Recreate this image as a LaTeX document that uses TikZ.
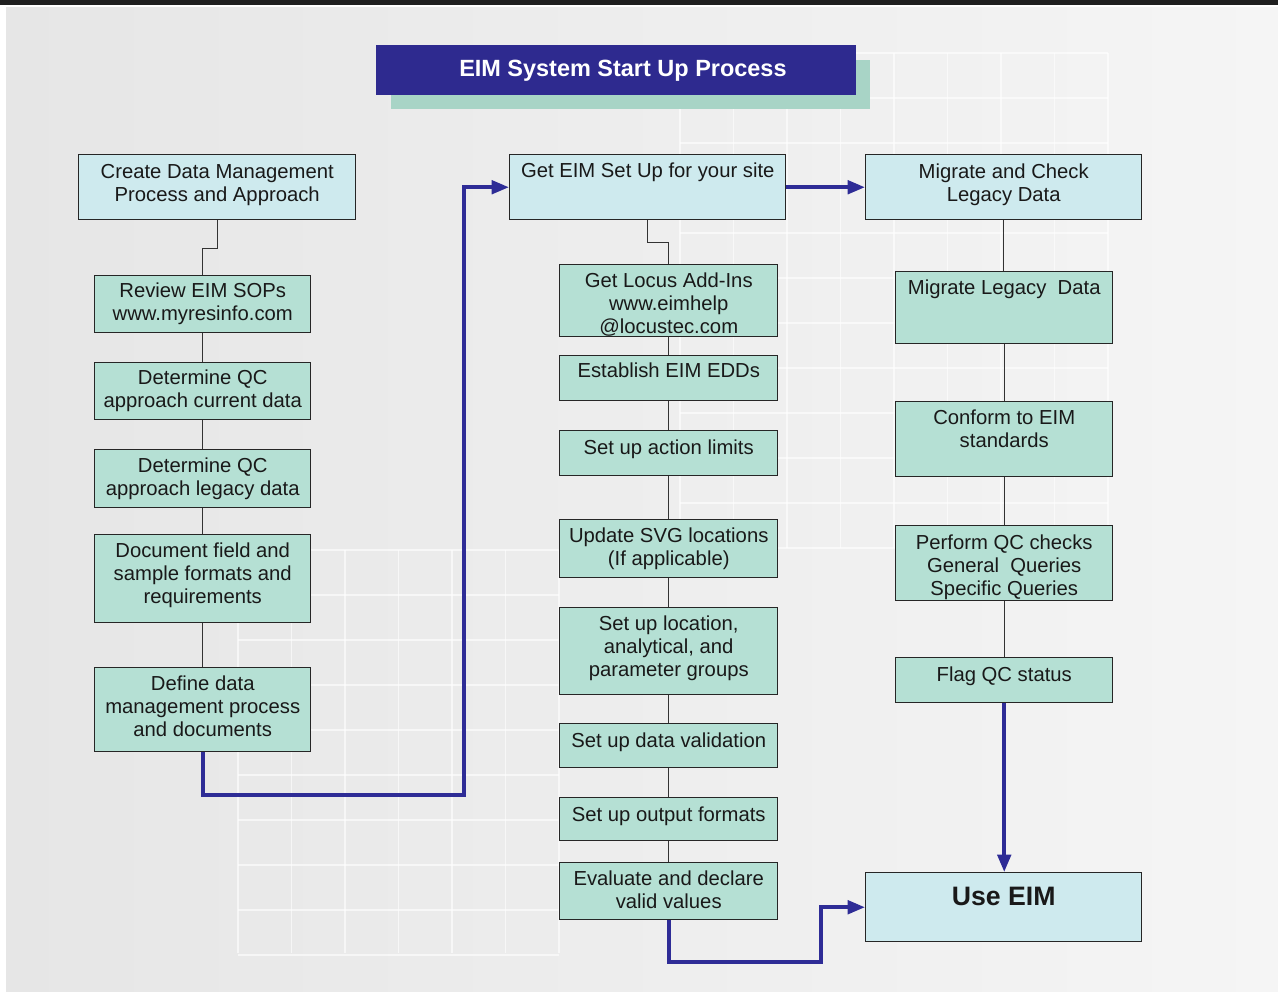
\documentclass[tikz,border=0pt]{standalone}
\usepackage{fontspec}
\setmainfont{Liberation Sans}
\usetikzlibrary{arrows.meta}

\definecolor{titleblue}{RGB}{46,42,143}
\definecolor{shadowteal}{RGB}{168,212,198}
\definecolor{cyanbox}{RGB}{206,234,238}
\definecolor{tealbox}{RGB}{181,224,212}
\definecolor{flowblue}{RGB}{46,44,150}
\definecolor{bgleft}{RGB}{230,230,230}
\definecolor{bgright}{RGB}{245,245,245}

\def\px{0.75pt}
\newcommand\boxfont{\fontsize{15.2}{17.25}\selectfont}

% width, baseline of the last line from the top, height (all in px)
\tikzset{boxsize/.style n args={3}{minimum width=#1*\px, text height=#2*\px, text depth=(#3-#2)*\px}}

\begin{document}
\begin{tikzpicture}[x=\px, y=-\px]
    \tikzstyle{cbox}=[draw=black!85, line width=1.1pt, fill=cyanbox, text=black!90, align=center, anchor=north west, inner sep=0pt, font=\boxfont]
    \tikzstyle{tbox}=[cbox, fill=tealbox]
    \tikzstyle{link}=[draw=black!80, line width=1pt]
    \tikzstyle{flow}=[draw=flowblue, line width=2.8pt, -{Triangle[length=13pt,width=10pt]}]
    \tikzstyle{gridline}=[draw=white, line width=0.8pt, opacity=0.6]

    \useasboundingbox (0,0) rectangle (1278,992);

    % Draw the background.
    \fill[white] (0,0) rectangle (1278,992);
    \shade[left color=bgleft, right color=bgright] (6,7) rectangle (1278,992);
    \fill[black!88] (0,0) rectangle (1278,5);
    \foreach \i in {0,...,6}
        \draw[gridline] (238+\i*53.5,550) -- (238+\i*53.5,953);
    \foreach \j in {0,...,9}
        \draw[gridline] (238,550+\j*45) -- (559,550+\j*45);
    \foreach \i in {0,...,8}
        \draw[gridline] (680+\i*53.5,53) -- (680+\i*53.5,548);
    \foreach \j in {0,...,11}
        \draw[gridline] (680,53+\j*45) -- (1108,53+\j*45);

    % Draw the title.
    \fill[shadowteal] (391,60) rectangle (870,109);
    \node[fill=titleblue, text=white, font=\bfseries\fontsize{17.6}{20}\selectfont, minimum width=480*\px, minimum height=50*\px, anchor=north west, inner sep=0pt] (title) at (376,45) {\hspace*{10pt}EIM System Start Up Process};

    % Draw the left column.
    \node[cbox, boxsize={277}{47}{65}] (dmpa) at (78,154) {Create Data Management\\Process and Approach};
    \node[tbox, boxsize={216}{45}{57}] (sops) at (94,275) {Review EIM SOPs\\www.myresinfo.com};
    \node[tbox, boxsize={216}{45}{57}] (qccur) at (94,362) {Determine QC\\approach current data};
    \node[tbox, boxsize={216}{46}{58}] (qcleg) at (94,449) {Determine QC\\approach legacy data};
    \node[tbox, boxsize={216}{69}{88}] (docs) at (94,534) {Document field and\\sample formats and\\requirements};
    \node[tbox, boxsize={216}{69}{84}] (dmpd) at (94,667) {Define data\\management process\\and documents};

    % Draw the middle column.
    \node[cbox, boxsize={276}{23}{65}] (site) at (509,154) {Get EIM Set Up for your site};
    \node[tbox, boxsize={218}{69}{72}] (locus) at (559,264) {Get Locus Add-Ins\\www.eimhelp\\@locustec.com};
    \node[tbox, boxsize={218}{22}{45}] (edds) at (559,355) {Establish EIM EDDs};
    \node[tbox, boxsize={218}{24}{45}] (limits) at (559,430) {Set up action limits};
    \node[tbox, boxsize={218}{46}{58}] (svg) at (559,519) {Update SVG locations\\(If applicable)};
    \node[tbox, boxsize={218}{69}{87}] (groups) at (559,607) {Set up location,\\analytical, and\\parameter groups};
    \node[tbox, boxsize={218}{24}{44}] (valid) at (559,723) {Set up data validation};
    \node[tbox, boxsize={218}{24}{43}] (formats) at (559,797) {Set up output formats};
    \node[tbox, boxsize={218}{46}{57}] (values) at (559,862) {Evaluate and declare\\valid values};

    % Draw the right column.
    \node[cbox, boxsize={276}{47}{65}] (legacy) at (865,154) {Migrate and Check\\Legacy Data};
    \node[tbox, boxsize={217}{23}{72}] (migrate) at (895,271) {Migrate Legacy~ Data};
    \node[tbox, boxsize={217}{46}{75}] (conform) at (895,401) {Conform to EIM\\standards};
    \node[tbox, boxsize={217}{70}{75}] (checks) at (895,525) {Perform QC checks\\General~ Queries\\Specific Queries};
    \node[tbox, boxsize={217}{24}{45}] (flag) at (895,657) {Flag QC status};
    \node[cbox, boxsize={276}{33}{69}, font=\bfseries\fontsize{20}{24}\selectfont] (use) at (865,872) {Use EIM};

    % Connect the boxes of each column.
    \draw[link] (dmpa.south) -- ++(0,28) -| (sops.north);
    \foreach \a/\b in {sops/qccur, qccur/qcleg, qcleg/docs, docs/dmpd}
        \draw[link] (\a.south) -- (\b.north);
    \draw[link] (site.south) -- ++(0,22) -| (locus.north);
    \foreach \a/\b in {locus/edds, edds/limits, limits/svg, svg/groups, groups/valid, valid/formats, formats/values}
        \draw[link] (\a.south) -- (\b.north);
    \foreach \a/\b in {legacy/migrate, migrate/conform, conform/checks, checks/flag}
        \draw[link] (\a.south) -- (\a.south |- \b.north);

    % Blue process flow.
    \coordinate (lbend) at (464,795);
    \coordinate (rbend) at (821,962);
    \draw[flow] (dmpd.south) |- (lbend) |- (site.west);
    \draw[flow] (site.east) -- (legacy.west);
    \draw[flow] (flag.south) -- (flag.south |- use.north);
    \draw[flow] (values.south) |- (rbend) |- (use.west);
\end{tikzpicture}
\end{document}
